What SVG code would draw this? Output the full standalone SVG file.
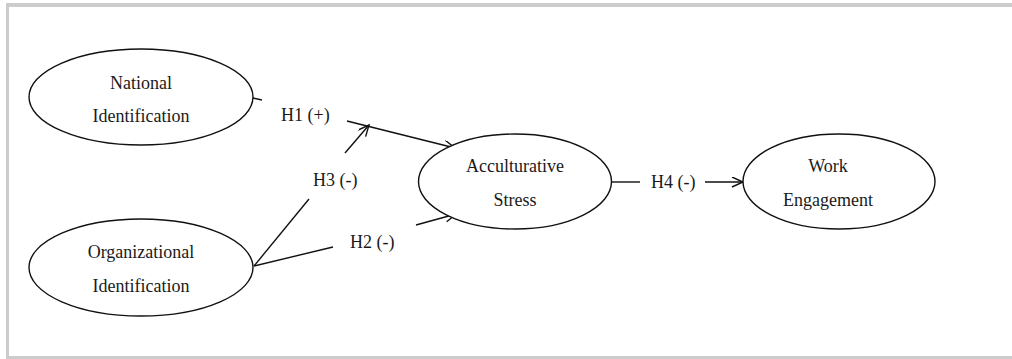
<svg xmlns="http://www.w3.org/2000/svg" width="1012" height="359" viewBox="0 0 1012 359">
  <style>
    .frame { fill: #cccccc; }
    .node ellipse { fill: #ffffff; stroke: #111111; stroke-width: 1.4; }
    .node text { font-family: "Liberation Serif", "Times New Roman", serif; font-size: 18px; fill: #1a1a1a; text-anchor: middle; }
    .label { font-family: "Liberation Serif", "Times New Roman", serif; font-size: 18px; fill: #1a1a1a; }
    .edge { stroke: #111111; stroke-width: 1.4; fill: none; }
  </style>
  <defs>
    <marker id="arrow" markerUnits="userSpaceOnUse" markerWidth="14" markerHeight="12" refX="12" refY="5" orient="auto">
      <path d="M1,0 L12,5 L1,10" fill="none" stroke="#111111" stroke-width="1.4"/>
    </marker>
  </defs>
  <rect width="1012" height="359" fill="#ffffff"/>
  <g id="frame">
    <rect class="frame" x="6" y="3" width="1006" height="4"/>
    <rect class="frame" x="6" y="3" width="3" height="356"/>
    <rect class="frame" x="6" y="356" width="1006" height="3"/>
  </g>
  <g id="connectors">
    <line class="edge" x1="253" y1="98" x2="262" y2="100"/>
    <line class="edge" x1="347" y1="121" x2="455" y2="148" marker-end="url(#arrow)"/>
    <line class="edge" x1="254" y1="266" x2="309" y2="199"/>
    <line class="edge" x1="345" y1="153" x2="369" y2="125" marker-end="url(#arrow)"/>
    <line class="edge" x1="254" y1="266" x2="333" y2="247"/>
    <line class="edge" x1="416" y1="225" x2="456" y2="214" marker-end="url(#arrow)"/>
    <line class="edge" x1="612" y1="182" x2="640" y2="182"/>
    <line class="edge" x1="705" y1="182" x2="743" y2="182" marker-end="url(#arrow)"/>
    <text class="label" x="281" y="121">H1 (+)</text>
    <text class="label" x="313" y="186">H3 (-)</text>
    <text class="label" x="350" y="248">H2 (-)</text>
    <text class="label" x="651" y="188">H4 (-)</text>
  </g>
  <g id="national" class="node">
    <ellipse cx="141" cy="97" rx="112" ry="48"/>
    <text x="141" y="89">National</text>
    <text x="141" y="122">Identification</text>
  </g>
  <g id="organizational" class="node">
    <ellipse cx="141" cy="267.5" rx="112" ry="48.5"/>
    <text x="141" y="258">Organizational</text>
    <text x="141" y="292">Identification</text>
  </g>
  <g id="acculturative" class="node">
    <ellipse cx="515" cy="181.5" rx="96.5" ry="47.5"/>
    <text x="515" y="172">Acculturative</text>
    <text x="515" y="206">Stress</text>
  </g>
  <g id="work" class="node">
    <ellipse cx="839" cy="181.5" rx="96" ry="47.5"/>
    <text x="828" y="172">Work</text>
    <text x="828" y="206">Engagement</text>
  </g>
</svg>
